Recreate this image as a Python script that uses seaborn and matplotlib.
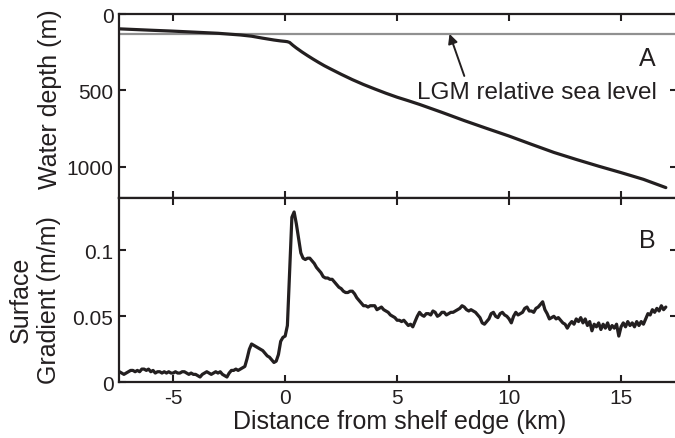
import numpy as np
import pandas as pd
import matplotlib
matplotlib.use("Agg")
import matplotlib.pyplot as plt
import seaborn as sns

# Bathymetric profile across the shelf edge (distance in km, depth in m)
profile_km = [-7.4, -6.0, -5.0, -4.0, -3.0, -2.0, -1.5, -1.0, -0.5, -0.2,
              0.0, 0.1, 0.2, 0.35, 0.5, 0.75, 1.0, 1.25, 1.5, 1.75, 2.0,
              2.5, 3.0, 3.5, 4.0, 4.5, 5.0, 5.5, 6.0, 7.0, 8.0, 9.0, 10.0,
              11.0, 12.0, 13.0, 14.0, 15.0, 16.0, 17.0]
profile_depth = [97, 106, 112, 119, 126, 137, 145, 158, 170, 176,
                 179, 181, 186, 205, 222, 248, 272, 295, 317, 338, 357,
                 394, 429, 461, 490, 518, 544, 567, 591, 643, 697, 748, 798,
                 852, 905, 951, 995, 1037, 1081, 1135]

# LGM relative sea level (m below present)
lgm_sea_level = 130

# Surface gradient sampled every 0.1 km from -7.4 km to 17.0 km
gradient_start_km = -7.4
gradient_step_km = 0.1
surface_gradient = [
    0.008, 0.007, 0.006, 0.007, 0.008, 0.009, 0.009, 0.008, 0.009, 0.008,
    0.010, 0.010, 0.009, 0.010, 0.008, 0.009, 0.007, 0.008, 0.008, 0.007,
    0.008, 0.007, 0.008, 0.007, 0.007, 0.008, 0.007, 0.007, 0.008, 0.008,
    0.007, 0.006, 0.007, 0.006, 0.006, 0.005, 0.004, 0.006, 0.007, 0.008,
    0.007, 0.006, 0.007, 0.008, 0.007, 0.008, 0.006, 0.005, 0.004, 0.007,
    0.009, 0.009, 0.010, 0.009, 0.010, 0.011, 0.012, 0.018, 0.025, 0.029,
    0.028, 0.027, 0.026, 0.025, 0.024, 0.022, 0.020, 0.019, 0.017, 0.015,
    0.016, 0.021, 0.031, 0.034, 0.035, 0.043, 0.085, 0.125, 0.129, 0.120,
    0.109, 0.098, 0.094, 0.093, 0.094, 0.094, 0.092, 0.090, 0.087, 0.085,
    0.083, 0.080, 0.079, 0.079, 0.078, 0.078, 0.076, 0.074, 0.072, 0.071,
    0.069, 0.068, 0.068, 0.069, 0.069, 0.067, 0.064, 0.062, 0.060, 0.058,
    0.058, 0.057, 0.058, 0.058, 0.058, 0.055, 0.056, 0.057, 0.055, 0.054,
    0.053, 0.051, 0.050, 0.049, 0.047, 0.047, 0.046, 0.047, 0.045, 0.043,
    0.044, 0.042, 0.046, 0.050, 0.053, 0.051, 0.050, 0.052, 0.052, 0.051,
    0.054, 0.053, 0.050, 0.051, 0.053, 0.053, 0.051, 0.052, 0.053, 0.053,
    0.054, 0.055, 0.056, 0.058, 0.057, 0.055, 0.054, 0.055, 0.054, 0.053,
    0.051, 0.049, 0.045, 0.044, 0.046, 0.048, 0.052, 0.053, 0.050, 0.049,
    0.052, 0.053, 0.051, 0.050, 0.048, 0.045, 0.050, 0.053, 0.051, 0.052,
    0.053, 0.056, 0.057, 0.054, 0.054, 0.053, 0.056, 0.057, 0.059, 0.061,
    0.055, 0.052, 0.048, 0.049, 0.050, 0.048, 0.049, 0.047, 0.045, 0.044,
    0.041, 0.044, 0.046, 0.044, 0.048, 0.046, 0.049, 0.045, 0.048, 0.043,
    0.046, 0.039, 0.044, 0.042, 0.045, 0.040, 0.044, 0.041, 0.045, 0.040,
    0.043, 0.041, 0.044, 0.035, 0.042, 0.045, 0.042, 0.046, 0.043, 0.045,
    0.042, 0.046, 0.043, 0.046, 0.044, 0.048, 0.052, 0.051, 0.055, 0.053,
    0.056, 0.054, 0.058, 0.055, 0.057,
]
gradient_km = gradient_start_km + gradient_step_km * np.arange(len(surface_gradient))

depth_ticks = [0, 500, 1000]
gradient_ticks = [0, 0.05, 0.1]
gradient_tick_labels = ["0", "0.05", "0.1"]
distance_ticks = [-5, 0, 5, 10, 15]

ink = "#231f20"
sea_grey = "#909090"

sns.set_theme(style="ticks")
plt.rcParams["font.family"] = ["Liberation Sans", "DejaVu Sans"]

fig = plt.figure(figsize=(6.75, 4.39), dpi=100)
left, right = 0.1763, 1.003
ax1 = fig.add_axes([left, 0.5467, right - left, 0.9658 - 0.5467])
ax2 = fig.add_axes([left, 0.1269, right - left, 0.5467 - 0.1269], sharex=ax1)

profile = pd.DataFrame({"km": profile_km, "depth": profile_depth})
gradient = pd.DataFrame({"km": gradient_km, "grad": surface_gradient})

# Panel A: water depth
ax1.axhline(lgm_sea_level, color=sea_grey, lw=1.6, zorder=1)
sns.lineplot(data=profile, x="km", y="depth", ax=ax1, color=ink, lw=2.3,
             zorder=3, estimator=None)
ax1.set_ylim(1203, 0)
ax1.set_yticks(depth_ticks)
ax1.set_xlim(-7.42, 17.5)
ax1.set_xlabel("")
ax1.set_ylabel("Water depth (m)", fontsize=18, color=ink, va="center")
ax1.yaxis.set_label_coords(-0.1237, 0.543)
ax1.text(0.946, 0.76, "A", transform=ax1.transAxes, fontsize=18,
         color=ink, ha="center", va="center")
ax1.text(11.24, 510, "LGM relative sea level", fontsize=17.5, color=ink,
         ha="center", va="center")
ax1.annotate("", xy=(7.34, lgm_sea_level), xytext=(8.0, 405),
             arrowprops=dict(arrowstyle="-|>", color=ink, lw=1.4,
                             mutation_scale=14, shrinkA=0, shrinkB=0))

# Panel B: surface gradient
sns.lineplot(data=gradient, x="km", y="grad", ax=ax2, color=ink, lw=2.3,
             estimator=None)
ax2.set_ylim(0, 0.1396)
ax2.set_yticks(gradient_ticks)
ax2.set_yticklabels(gradient_tick_labels)
ax2.set_xticks(distance_ticks)
ax2.set_xticklabels([str(t) for t in distance_ticks])
ax2.set_ylabel("Surface\nGradient (m/m)", fontsize=18, color=ink,
               va="center", ha="center", linespacing=1.2)
ax2.yaxis.set_label_coords(-0.1505, 0.452)
ax2.set_xlabel("Distance from shelf edge (km)", fontsize=18, color=ink)
ax2.xaxis.set_label_coords(0.502, -0.208)
ax2.xaxis.label.set_verticalalignment("center")
ax2.text(0.946, 0.77, "B", transform=ax2.transAxes, fontsize=18,
         color=ink, ha="center", va="center")

for ax in (ax1, ax2):
    ax.tick_params(direction="in", length=5, width=1.5, top=True, right=True,
                   labelsize=15, colors=ink, pad=4)
    for sp in ax.spines.values():
        sp.set_linewidth(1.6)
        sp.set_color(ink)
ax1.tick_params(labelbottom=False)

fig.savefig("out.png", dpi=100)
